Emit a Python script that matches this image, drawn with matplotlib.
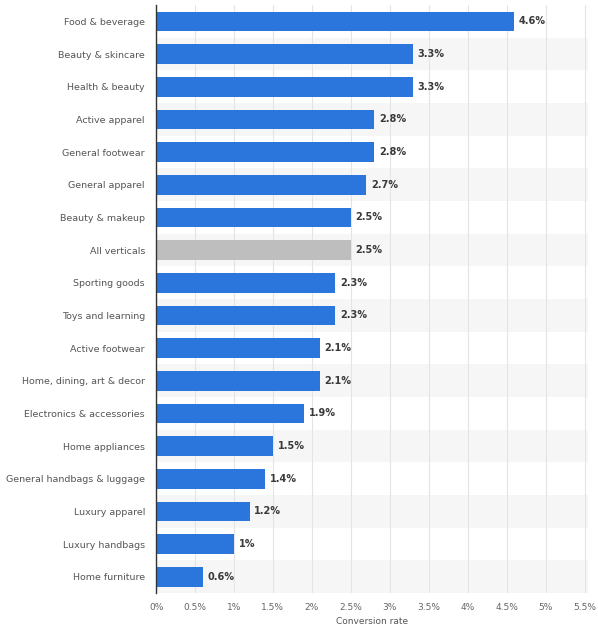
import matplotlib.pyplot as plt
import numpy as np

categories = ['Food & beverage', 'Beauty & skincare', 'Health & beauty', 'Active apparel',
              'General footwear', 'General apparel', 'Beauty & makeup', 'All verticals',
              'Sporting goods', 'Toys and learning', 'Active footwear', 'Home, dining, art & decor',
              'Electronics & accessories', 'Home appliances', 'General handbags & luggage',
              'Luxury apparel', 'Luxury handbags', 'Home furniture']
values = [4.6, 3.3, 3.3, 2.8, 2.8, 2.7, 2.5, 2.5, 2.3, 2.3, 2.1, 2.1, 1.9, 1.5, 1.4, 1.2, 1.0, 0.6]
value_labels = ['4.6%', '3.3%', '3.3%', '2.8%', '2.8%', '2.7%', '2.5%', '2.5%', '2.3%', '2.3%',
                '2.1%', '2.1%', '1.9%', '1.5%', '1.4%', '1.2%', '1%', '0.6%']
ticks = [0, 0.5, 1, 1.5, 2, 2.5, 3, 3.5, 4, 4.5, 5, 5.5]
tick_labels = ['0%', '0.5%', '1%', '1.5%', '2%', '2.5%', '3%', '3.5%', '4%', '4.5%', '5%', '5.5%']

blue = '#2a76dd'
grey = '#bebebe'
colors = [grey if c == 'All verticals' else blue for c in categories]

fig = plt.figure(figsize=(5.98, 6.31), dpi=100)
ax = fig.add_axes([0.261, 0.06, 0.723, 0.932])

n = len(categories)
y = np.arange(n)

# alternating row bands
for i in y:
    if i % 2 == 1:
        ax.axhspan(i - 0.5, i + 0.5, color='#f6f6f6', zorder=0, lw=0)

ax.barh(y, values, height=0.6, color=colors, zorder=3)

for yi, v, lab in zip(y, values, value_labels):
    ax.text(v + 0.06, yi, lab, va='center', ha='left', fontsize=7,
            color='#3a3a3a', fontweight='bold')

ax.set_xlim(0, 5.55)
ax.set_ylim(n - 0.5, -0.5)
ax.set_yticks(y)
ax.set_yticklabels(categories, fontsize=6.8, color='#555555')
ax.set_xticks(ticks)
ax.set_xticklabels(tick_labels, fontsize=6.5, color='#666666')
ax.tick_params(axis='both', length=0)
ax.tick_params(axis='y', pad=8)
ax.tick_params(axis='x', pad=7)

ax.grid(axis='x', color='#e4e4e4', lw=0.8, zorder=1)
ax.set_axisbelow(True)
for s in ['top', 'right', 'bottom']:
    ax.spines[s].set_visible(False)
ax.spines['left'].set_color('#333333')
ax.spines['left'].set_linewidth(1)
ax.spines['left'].set_zorder(4)

ax.set_xlabel('Conversion rate', fontsize=6.5, color='#555555', labelpad=4)

fig.savefig('out.png', dpi=100)
